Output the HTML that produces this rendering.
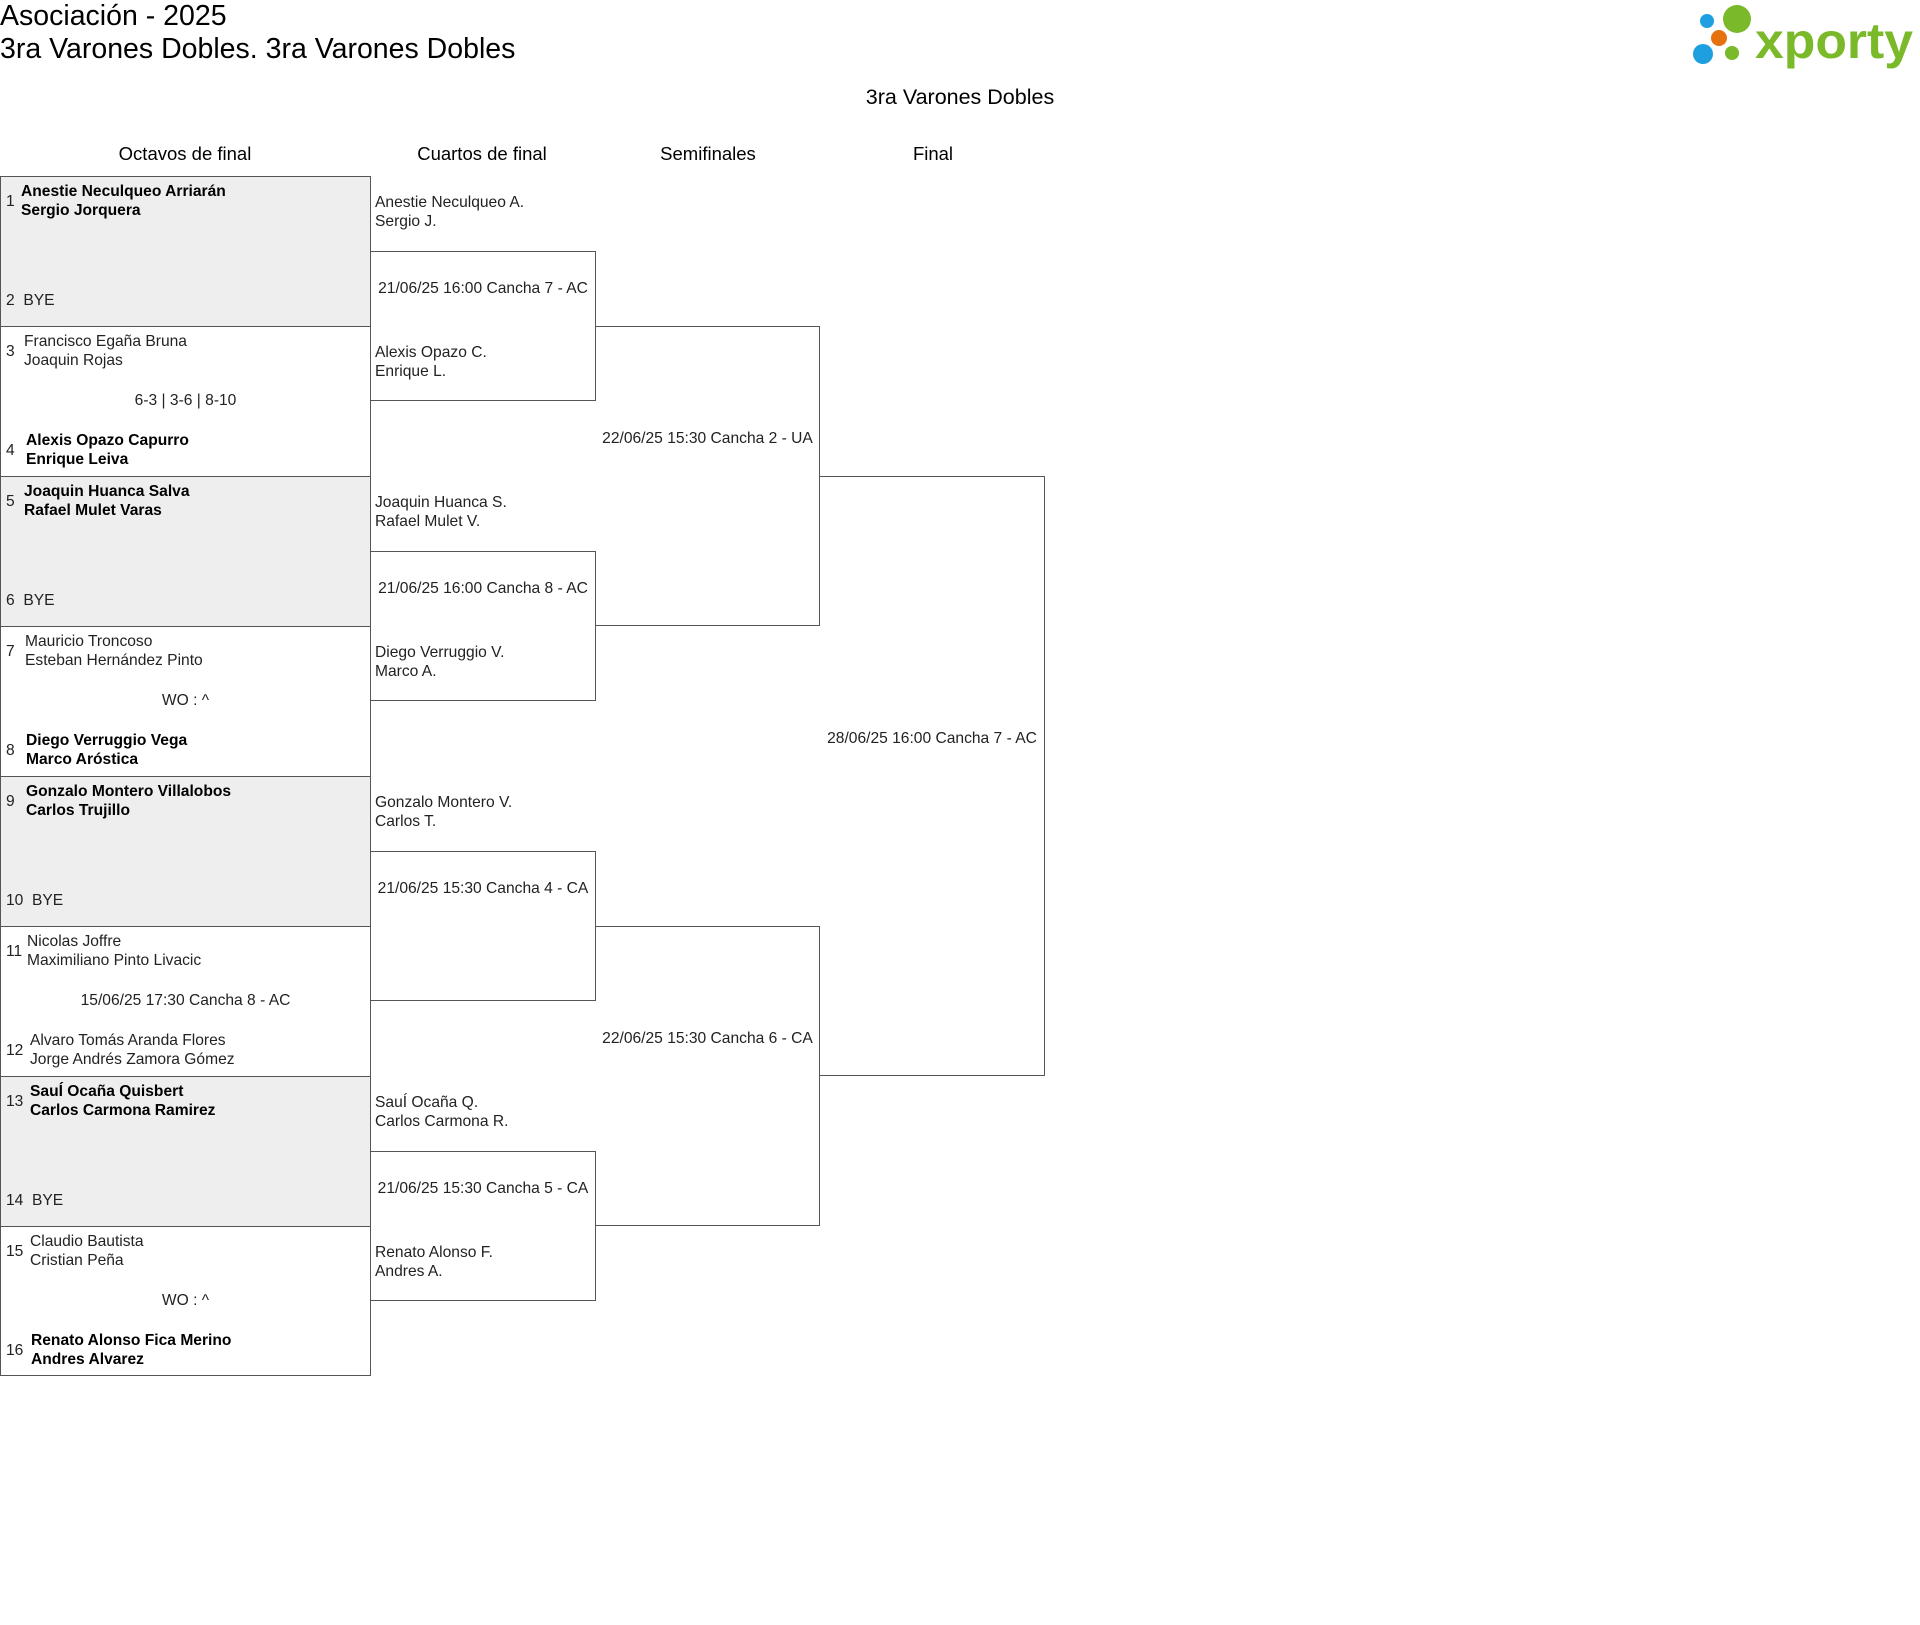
<!DOCTYPE html>
<html><head><meta charset="utf-8"><style>
body{margin:0;width:1920px;height:1625px;background:#fff;position:relative;font-family:"Liberation Sans",sans-serif;color:#222;overflow:hidden}
.a{position:absolute}
.t{font-size:15.6px;line-height:19px;white-space:nowrap}
.b{font-weight:bold;color:#000}
.box{position:absolute;border:1px solid #555;box-sizing:border-box}
.nl{border-left:none}
.g{background:#eee}
.h{font-size:18.5px;text-align:center;width:240px;margin-left:-120px;color:#000}
.c{text-align:center}
</style></head><body>
<div class="a" style="left:0;top:0;font-size:28.5px;line-height:33px;color:#000">Asociación - 2025<br>3ra Varones Dobles. 3ra Varones Dobles</div>
<svg class="a" style="left:1680px;top:0" width="240" height="80">
<circle cx="27" cy="21" r="7" fill="#1ea0e0"/><circle cx="57" cy="19" r="14" fill="#7ab929"/>
<circle cx="39" cy="38" r="8" fill="#e5720f"/><circle cx="23" cy="54" r="10" fill="#1ea0e0"/>
<circle cx="52" cy="53" r="7" fill="#7ab929"/>
<text x="75" y="58" font-family="Liberation Sans" font-weight="bold" font-size="50" fill="#7ab929" textLength="158" lengthAdjust="spacingAndGlyphs">xporty</text>
</svg>
<div class="a h" style="left:960px;top:85px;font-size:21.5px">3ra Varones Dobles</div>
<div class="a h" style="left:185px;top:143px">Octavos de final</div>
<div class="a h" style="left:482px;top:143px">Cuartos de final</div>
<div class="a h" style="left:708px;top:143px">Semifinales</div>
<div class="a h" style="left:933px;top:143px">Final</div>

<!-- Round 1 -->
<div class="box g" style="left:0;top:176px;width:371px;height:151px"></div>
<div class="box" style="left:0;top:326px;width:371px;height:151px"></div>
<div class="box g" style="left:0;top:476px;width:371px;height:151px"></div>
<div class="box" style="left:0;top:626px;width:371px;height:151px"></div>
<div class="box g" style="left:0;top:776px;width:371px;height:151px"></div>
<div class="box" style="left:0;top:926px;width:371px;height:151px"></div>
<div class="box g" style="left:0;top:1076px;width:371px;height:151px"></div>
<div class="box" style="left:0;top:1226px;width:371px;height:150px"></div>

<div class="a t" style="left:6px;top:192px">1</div><div class="a t b" style="left:21px;top:182px">Anestie Neculqueo Arriarán<br>Sergio Jorquera</div>
<div class="a t" style="left:6px;top:291px">2&nbsp;&nbsp;BYE</div>
<div class="a t" style="left:6px;top:342px">3</div><div class="a t" style="left:24px;top:332px">Francisco Egaña Bruna<br>Joaquin Rojas</div>
<div class="a t c" style="left:0;width:371px;top:391px">6-3 | 3-6 | 8-10</div>
<div class="a t" style="left:6px;top:441px">4</div><div class="a t b" style="left:26px;top:431px">Alexis Opazo Capurro<br>Enrique Leiva</div>
<div class="a t" style="left:6px;top:492px">5</div><div class="a t b" style="left:24px;top:482px">Joaquin Huanca Salva<br>Rafael Mulet Varas</div>
<div class="a t" style="left:6px;top:591px">6&nbsp;&nbsp;BYE</div>
<div class="a t" style="left:6px;top:642px">7</div><div class="a t" style="left:25px;top:632px">Mauricio Troncoso<br>Esteban Hernández Pinto</div>
<div class="a t c" style="left:0;width:371px;top:691px">WO : ^</div>
<div class="a t" style="left:6px;top:741px">8</div><div class="a t b" style="left:26px;top:731px">Diego Verruggio Vega<br>Marco Aróstica</div>
<div class="a t" style="left:6px;top:792px">9</div><div class="a t b" style="left:26px;top:782px">Gonzalo Montero Villalobos<br>Carlos Trujillo</div>
<div class="a t" style="left:6px;top:891px">10&nbsp;&nbsp;BYE</div>
<div class="a t" style="left:6px;top:942px">11</div><div class="a t" style="left:27px;top:932px">Nicolas Joffre<br>Maximiliano Pinto Livacic</div>
<div class="a t c" style="left:0;width:371px;top:991px">15/06/25 17:30 Cancha 8 - AC</div>
<div class="a t" style="left:6px;top:1041px">12</div><div class="a t" style="left:30px;top:1031px">Alvaro Tomás Aranda Flores<br>Jorge Andrés Zamora Gómez</div>
<div class="a t" style="left:6px;top:1092px">13</div><div class="a t b" style="left:30px;top:1082px">SauÍ Ocaña Quisbert<br>Carlos Carmona Ramirez</div>
<div class="a t" style="left:6px;top:1191px">14&nbsp;&nbsp;BYE</div>
<div class="a t" style="left:6px;top:1242px">15</div><div class="a t" style="left:30px;top:1232px">Claudio Bautista<br>Cristian Peña</div>
<div class="a t c" style="left:0;width:371px;top:1291px">WO : ^</div>
<div class="a t" style="left:6px;top:1341px">16</div><div class="a t b" style="left:31px;top:1331px">Renato Alonso Fica Merino<br>Andres Alvarez</div>

<!-- QF -->
<div class="box nl" style="left:370px;top:251px;width:226px;height:150px"></div>
<div class="box nl" style="left:370px;top:551px;width:226px;height:150px"></div>
<div class="box nl" style="left:370px;top:851px;width:226px;height:150px"></div>
<div class="box nl" style="left:370px;top:1151px;width:226px;height:150px"></div>
<div class="a t" style="left:375px;top:193px">Anestie Neculqueo A.<br>Sergio J.</div>
<div class="a t c" style="left:370px;width:226px;top:279px">21/06/25 16:00 Cancha 7 - AC</div>
<div class="a t" style="left:375px;top:343px">Alexis Opazo C.<br>Enrique L.</div>
<div class="a t" style="left:375px;top:493px">Joaquin Huanca S.<br>Rafael Mulet V.</div>
<div class="a t c" style="left:370px;width:226px;top:579px">21/06/25 16:00 Cancha 8 - AC</div>
<div class="a t" style="left:375px;top:643px">Diego Verruggio V.<br>Marco A.</div>
<div class="a t" style="left:375px;top:793px">Gonzalo Montero V.<br>Carlos T.</div>
<div class="a t c" style="left:370px;width:226px;top:879px">21/06/25 15:30 Cancha 4 - CA</div>
<div class="a t" style="left:375px;top:1093px">SauÍ Ocaña Q.<br>Carlos Carmona R.</div>
<div class="a t c" style="left:370px;width:226px;top:1179px">21/06/25 15:30 Cancha 5 - CA</div>
<div class="a t" style="left:375px;top:1243px">Renato Alonso F.<br>Andres A.</div>

<!-- SF -->
<div class="box nl" style="left:595px;top:326px;width:225px;height:300px"></div>
<div class="box nl" style="left:595px;top:926px;width:225px;height:300px"></div>
<div class="a t c" style="left:595px;width:225px;top:429px">22/06/25 15:30 Cancha 2 - UA</div>
<div class="a t c" style="left:595px;width:225px;top:1029px">22/06/25 15:30 Cancha 6 - CA</div>

<!-- Final -->
<div class="box nl" style="left:819px;top:476px;width:226px;height:600px"></div>
<div class="a t c" style="left:819px;width:226px;top:729px">28/06/25 16:00 Cancha 7 - AC</div>
</body></html>
